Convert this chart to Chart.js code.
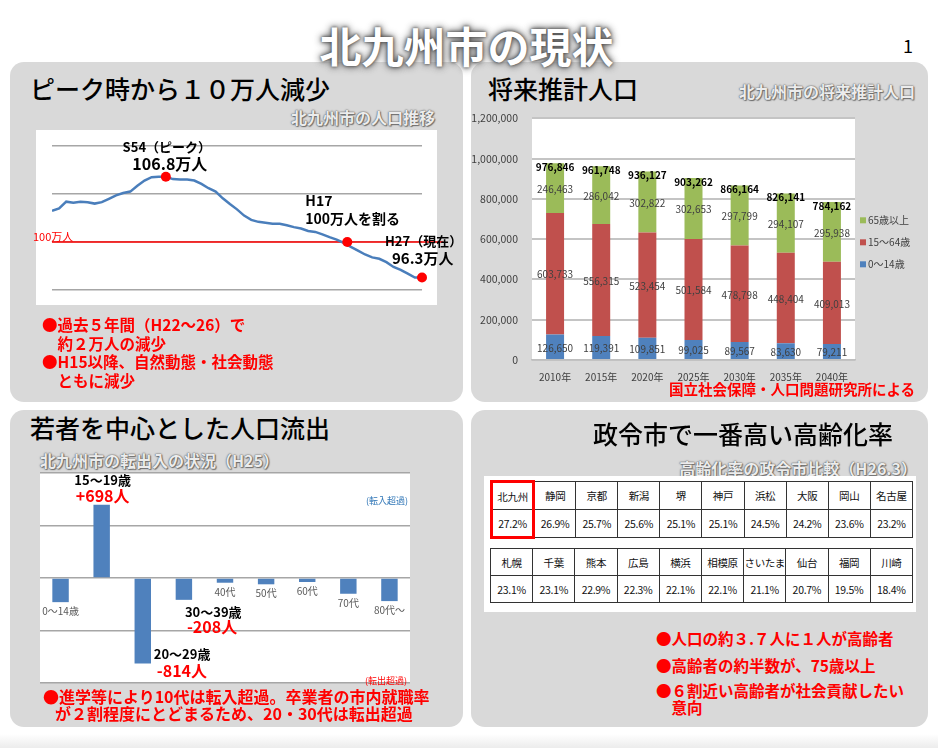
<!DOCTYPE html>
<html>
<head>
<meta charset="UTF-8">
<title>北九州市の現状</title>
<script src="https://cdn.jsdelivr.net/npm/chart.js"></script>
<style>
body{margin:0;width:938px;height:748px;position:relative;overflow:hidden;background:#fff;font-family:"Noto Sans CJK JP",sans-serif;}
.panel{position:absolute;background:#d9d9d9;border-radius:14px;}
.head{position:absolute;font-size:25px;font-weight:500;line-height:26px;white-space:nowrap;color:#000;}
.sub{position:absolute;font-size:16px;font-weight:bold;line-height:18px;white-space:nowrap;color:#ececec;text-shadow:0 0 1px #555,0 0 2px #666,1px 1px 1px #777;}
.note{position:absolute;color:#f00;font-weight:bold;white-space:nowrap;}
.box{position:absolute;background:#fff;}
canvas{position:absolute;}
table.rate{position:absolute;border-collapse:collapse;table-layout:fixed;width:423px;}
table.rate td{border:1.5px solid #333;height:26px;padding:0;text-align:center;font-size:10.5px;color:#111;white-space:nowrap;letter-spacing:-0.3px;}
table.rate td.hlTop{border:3px solid #f00;border-bottom:1.5px solid #333;}
table.rate td.hlBot{border:3px solid #f00;border-top:1.5px solid #333;}
#title{position:absolute;left:0;top:22px;width:933px;text-align:center;font-size:42px;font-weight:bold;line-height:46px;color:#fff;z-index:5;
  text-shadow:0 0 3px #444,0 0 6px #555,0 0 10px #888;}
</style>
</head>
<body>
<div class="panel" style="left:10px;top:62px;width:453px;height:340px"></div>
<div class="panel" style="left:471px;top:62px;width:457px;height:340px"></div>
<div class="panel" style="left:10px;top:410px;width:453px;height:317px"></div>
<div class="panel" style="left:471px;top:410px;width:457px;height:317px"></div>
<div style="position:absolute;left:0;top:734px;width:938px;height:14px;background:linear-gradient(#fff,#ececec)"></div>

<div id="title">北九州市の現状</div>
<div style="position:absolute;left:903px;top:35px;font-size:18px;line-height:20px">1</div>

<!-- panel 1 -->
<div class="head" style="left:30px;top:75px">ピーク時から１０万人減少</div>
<div class="sub" style="right:503px;top:108px">北九州市の人口推移</div>
<div class="box" style="left:36px;top:130px;width:401px;height:175px"></div>
<canvas id="c1" width="440" height="190" style="left:20px;top:125px"></canvas>
<div class="note" style="left:42px;top:315px;font-size:15.5px;line-height:18.5px">●過去５年間（H22～26）で<br>　約２万人の減少<br>●H15以降、自然動態・社会動態<br>　ともに減少</div>

<!-- panel 2 -->
<div class="head" style="left:488px;top:75px">将来推計人口</div>
<div class="sub" style="right:23px;top:82px">北九州市の将来推計人口</div>
<canvas id="c2" width="455" height="290" style="left:470px;top:98px"></canvas>
<div class="note" style="right:23px;top:380px;font-size:14.5px;line-height:18px">国立社会保障・人口問題研究所による</div>

<!-- panel 3 -->
<div class="head" style="left:30px;top:414px">若者を中心とした人口流出</div>
<div class="sub" style="left:40px;top:451px">北九州市の転出入の状況（H25）</div>
<canvas id="c3" width="430" height="230" style="left:20px;top:462px"></canvas>
<div class="note" style="left:43px;top:688px;font-size:16px;line-height:17px">●進学等により10代は転入超過。卒業者の市内就職率</div>
<div class="note" style="left:55px;top:705px;font-size:16px;line-height:17px">が２割程度にとどまるため、20・30代は転出超過</div>

<!-- panel 4 -->
<div class="head" style="left:593px;top:420px">政令市で一番高い高齢化率</div>
<div class="sub" style="right:21px;top:459px">高齢化率の政令市比較（H26.3）</div>
<div class="box" style="left:484px;top:476px;width:432px;height:136px"></div>
<table class="rate" id="t1" style="left:490px;top:480px"></table>
<table class="rate" id="t2" style="left:490px;top:548px"></table>
<div class="note" style="left:656px;top:628px;font-size:15.5px;line-height:20px">●人口の約３.７人に１人が高齢者</div>
<div class="note" style="left:656px;top:655px;font-size:15.5px;line-height:20px">●高齢者の約半数が、75歳以上</div>
<div class="note" style="left:656px;top:682px;font-size:15.5px;line-height:17px">●６割近い高齢者が社会貢献したい<br>　意向</div>

<script>
// 人口推移（万人）
const popYears = [1963,1964,1965,1966,1967,1968,1969,1970,1971,1972,1973,1974,1975,1976,1977,1978,1979,
  1980,1981,1982,1983,1984,1985,1986,1987,1988,1989,1990,1991,1992,1993,1994,1995,1996,1997,1998,1999,
  2000,2001,2002,2003,2004,2005,2006,2007,2008,2009,2010,2011,2012,2013,2014,2015];
const popValues = [103.25,103.5,104.2,104.1,104.2,104.15,104.0,104.15,104.5,104.85,105.1,105.25,105.85,106.4,106.75,106.8,106.8,
  106.55,106.5,106.5,106.4,106.05,105.6,105.25,104.55,103.95,103.4,102.75,102.3,102.1,102.0,101.9,101.9,101.75,101.55,101.4,101.15,
  101.05,100.8,100.5,100.25,99.9,99.5,99.1,98.7,98.4,98.25,97.9,97.4,97.1,96.7,96.3,96.3];
const markYears = [1979, 2004.5, 2015];
const markValues = [106.8, 100, 96.3];
const markNotes = [['S54（ピーク）','106.8万人'],['H17','100万人を割る'],['H27（現在）','96.3万人']];
const lineValue = 100;
const lineLabel = '100万人';

// 将来推計人口
const projYears = ['2010年','2015年','2020年','2025年','2030年','2035年','2040年'];
const age0_14 = [126650,119391,109851,99025,89567,83630,79211];
const age15_64 = [603733,556315,523454,501584,478798,448404,409013];
const age65 = [246463,286042,302822,302653,297799,294107,295938];
const projTotals = [976846,961748,936127,903262,866164,826141,784162];

// 転出入の状況（H25）
const flowLabels = ['0～14歳','15～19歳','20～29歳','30～39歳','40代','50代','60代','70代','80代～'];
const flowValues = [-230,698,-814,-208,-45,-60,-38,-150,-220];

// 高齢化率
const cities1 = ['北九州','静岡','京都','新潟','堺','神戸','浜松','大阪','岡山','名古屋'];
const rates1 = [27.2,26.9,25.7,25.6,25.1,25.1,24.5,24.2,23.6,23.2];
const cities2 = ['札幌','千葉','熊本','広島','横浜','相模原','さいたま','仙台','福岡','川崎'];
const rates2 = [23.1,23.1,22.9,22.3,22.1,22.1,21.1,20.7,19.5,18.4];

const FONT = '"Noto Sans CJK JP", sans-serif';
Chart.defaults.font.family = FONT;
Chart.defaults.animation = false;
Chart.defaults.plugins.legend.display = false;
Chart.defaults.plugins.tooltip.enabled = false;

const whiteBg = {
  id:'whiteBg',
  beforeDraw(chart){
    const a = chart.chartArea, ctx = chart.ctx;
    ctx.save(); ctx.fillStyle = '#fff';
    ctx.fillRect(a.left, a.top, a.right - a.left, a.bottom - a.top);
    ctx.restore();
  }
};

// chart 1 notes
const popNotes = {
  id:'popNotes',
  afterDatasetsDraw(chart){
    const ctx = chart.ctx, a = chart.chartArea, ys = chart.scales.y;
    const pts = chart.getDatasetMeta(0).data;
    ctx.save();
    ctx.textBaseline = 'middle';
    ctx.fillStyle = '#f00'; ctx.textAlign = 'left'; ctx.font = '11px ' + FONT;
    ctx.fillText(lineLabel, a.left - 19, ys.getPixelForValue(lineValue) - 5);
    ctx.fillStyle = '#000';
    // peak
    let p = pts[0];
    ctx.textAlign = 'center';
    ctx.font = 'bold 13px ' + FONT; ctx.fillText(markNotes[0][0], p.x + 1, p.y - 30);
    ctx.font = 'bold 16px ' + FONT; ctx.fillText(markNotes[0][1], p.x + 4, p.y - 13);
    // H17
    p = pts[1];
    ctx.textAlign = 'left';
    ctx.font = 'bold 14px ' + FONT; ctx.fillText(markNotes[1][0], p.x - 42, p.y - 41);
    ctx.fillText(markNotes[1][1], p.x - 42, p.y - 23);
    // H27
    p = pts[2];
    ctx.font = 'bold 13px ' + FONT; ctx.fillText(markNotes[2][0], p.x - 37, p.y - 36);
    ctx.font = 'bold 15px ' + FONT; ctx.fillText(markNotes[2][1], p.x - 30, p.y - 19);
    ctx.restore();
  }
};

new Chart(document.getElementById('c1'), {
  type:'line',
  data:{datasets:[
    {data: markYears.map((y,i)=>({x:y, y:markValues[i]})), showLine:false, pointRadius:5,
     pointBackgroundColor:'#ff0000', pointBorderWidth:0, clip:false},
    {data: popYears.map((y,i)=>({x:y, y:popValues[i]})), borderColor:'#4a7ebb', borderWidth:2.5, pointRadius:0},
    {data: [{x:popYears[0], y:lineValue},{x:2018, y:lineValue}], borderColor:'#ff0000', borderWidth:1.5, pointRadius:0, clip:false}
  ]},
  options:{
    responsive:false,
    layout:{padding:{left:32, right:38, top:21, bottom:25}},
    scales:{
      x:{type:'linear', min:1963, max:2015, display:false},
      y:{min:95, max:110, ticks:{display:false, stepSize:5},
         grid:{color:'#a6a6a6', lineWidth:1.5, drawTicks:false}, border:{display:false},
         afterFit(s){ s.width = 0; }}
    }
  },
  plugins:[popNotes]
});

// chart 2 labels + legend
const projLabels = {
  id:'projLabels',
  afterDatasetsDraw(chart){
    const ctx = chart.ctx, a = chart.chartArea;
    ctx.save();
    ctx.textAlign = 'center'; ctx.textBaseline = 'middle';
    ctx.font = '10px ' + FONT; ctx.fillStyle = '#404040';
    chart.data.datasets.forEach((ds, di) => {
      chart.getDatasetMeta(di).data.forEach((el, i) => {
        ctx.fillText(ds.data[i].toLocaleString('en-US'), el.x, (el.y + el.base) / 2 + 1);
      });
    });
    ctx.font = 'bold 10px ' + FONT; ctx.fillStyle = '#000';
    chart.getDatasetMeta(2).data.forEach((el, i) => {
      ctx.fillText(projTotals[i].toLocaleString('en-US'), el.x, el.y + 4);
    });
    ctx.textAlign = 'left';
    ctx.font = '10px ' + FONT;
    for (let k = 2; k >= 0; k--) {
      const ds = chart.data.datasets[k];
      const y = a.top + 102 + (2 - k) * 22;
      ctx.fillStyle = ds.backgroundColor; ctx.fillRect(a.right + 5, y - 3, 6, 6);
      ctx.fillStyle = '#404040'; ctx.fillText(ds.label, a.right + 13, y);
    }
    ctx.restore();
  }
};

new Chart(document.getElementById('c2'), {
  type:'bar',
  data:{labels:projYears, datasets:[
    {label:'0～14歳', data:age0_14, backgroundColor:'#4f81bd'},
    {label:'15～64歳', data:age15_64, backgroundColor:'#c0504d'},
    {label:'65歳以上', data:age65, backgroundColor:'#9bbb59'}
  ]},
  options:{
    responsive:false,
    datasets:{bar:{barPercentage:0.39, categoryPercentage:1}},
    layout:{padding:{left:0, right:70, top:10, bottom:0}},
    scales:{
      x:{stacked:true, grid:{display:false, drawTicks:false}, border:{color:'#bfbfbf', width:1.5},
         ticks:{color:'#404040', font:{size:10}, padding:11}, afterFit(s){ s.height = 28; }},
      y:{stacked:true, min:0, max:1200000,
         ticks:{stepSize:200000, color:'#404040', font:{size:10.5}, padding:14, callback:v => v.toLocaleString('en-US')},
         grid:{color:'#c4c4c4', lineWidth:2, drawTicks:false}, border:{display:false},
         afterFit(s){ s.width = 62; }}
    }
  },
  plugins:[whiteBg, projLabels]
});

// chart 3 labels
const flowNotes = {
  id:'flowNotes',
  afterDatasetsDraw(chart){
    const ctx = chart.ctx, a = chart.chartArea, ys = chart.scales.y;
    const els = chart.getDatasetMeta(0).data;
    ctx.save();
    ctx.textBaseline = 'middle';
    const fmt = v => (v > 0 ? '+' + v : String(v)) + '人';
    els.forEach((el, i) => {
      if (i === 1) {
        ctx.textAlign = 'center';
        ctx.fillStyle = '#000'; ctx.font = 'bold 13px ' + FONT; ctx.fillText(flowLabels[i], el.x + 1, el.y - 25);
        ctx.fillStyle = '#f00'; ctx.font = 'bold 16px ' + FONT; ctx.fillText(fmt(flowValues[i]), el.x + 1, el.y - 9);
      } else if (i === 2) {
        ctx.textAlign = 'left';
        ctx.fillStyle = '#000'; ctx.font = 'bold 13px ' + FONT; ctx.fillText(flowLabels[i], el.x + 11, el.y - 9);
        ctx.fillStyle = '#f00'; ctx.font = 'bold 16px ' + FONT; ctx.fillText(fmt(flowValues[i]), el.x + 14, el.y + 7);
      } else if (i === 3) {
        ctx.textAlign = 'left';
        ctx.fillStyle = '#000'; ctx.font = 'bold 13px ' + FONT; ctx.fillText(flowLabels[i], el.x + 1, el.y + 12);
        ctx.fillStyle = '#f00'; ctx.font = 'bold 16px ' + FONT; ctx.fillText(fmt(flowValues[i]), el.x + 3, el.y + 27);
      } else {
        ctx.textAlign = 'center';
        ctx.fillStyle = '#595959'; ctx.font = '10px ' + FONT;
        ctx.fillText(flowLabels[i], el.x, el.y + 9);
      }
    });
    ctx.textAlign = 'right'; ctx.font = '9px ' + FONT;
    ctx.fillStyle = '#2e75b6'; ctx.fillText('(転入超過)', a.right - 2, ys.getPixelForValue(740));
    ctx.fillStyle = '#f00'; ctx.fillText('(転出超過)', a.right - 3, ys.getPixelForValue(-975));
    ctx.restore();
  }
};

new Chart(document.getElementById('c3'), {
  type:'bar',
  data:{labels:flowLabels, datasets:[{data:flowValues, backgroundColor:'#4f81bd', barPercentage:0.4, categoryPercentage:1}]},
  options:{
    responsive:false,
    layout:{padding:{left:20, right:40, top:11, bottom:9}},
    scales:{
      x:{display:false},
      y:{min:-1000, max:1000, ticks:{display:false, stepSize:500},
         grid:{color:'#a6a6a6', lineWidth:1.5, drawTicks:false}, border:{display:false},
         afterFit(s){ s.width = 0; }}
    }
  },
  plugins:[whiteBg, flowNotes]
});

// 高齢化率 table
function buildTable(id, cities, rates){
  const t = document.getElementById(id);
  const r1 = t.insertRow(), r2 = t.insertRow();
  cities.forEach((c, i) => {
    r1.insertCell().textContent = c;
    r2.insertCell().textContent = rates[i].toFixed(1) + '%';
  });
  return t;
}
const t1 = buildTable('t1', cities1, rates1);
buildTable('t2', cities2, rates2);
t1.rows[0].cells[0].className = 'hlTop';
t1.rows[1].cells[0].className = 'hlBot';
</script>
</body>
</html>
